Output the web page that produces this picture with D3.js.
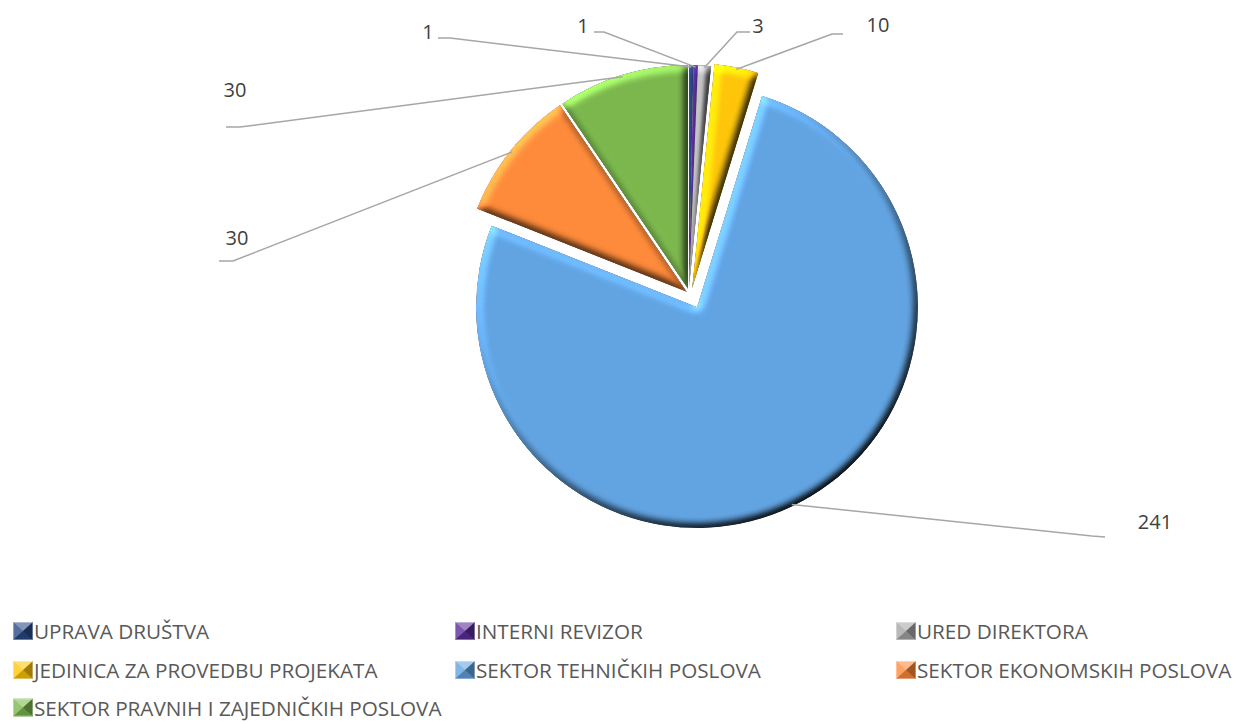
<!DOCTYPE html>
<html><head><meta charset="utf-8">
<script src="https://cdn.jsdelivr.net/npm/d3@7"></script>
<style>html,body{margin:0;padding:0;background:#fff}svg{display:block}</style>
</head><body><svg id="c" width="1236" height="722"></svg>
<script>
// data
const categories = ["UPRAVA DRUŠTVA","INTERNI REVIZOR","URED DIREKTORA","JEDINICA ZA PROVEDBU PROJEKATA","SEKTOR TEHNIČKIH POSLOVA","SEKTOR EKONOMSKIH POSLOVA","SEKTOR PRAVNIH I ZAJEDNIČKIH POSLOVA"];
const values = [1,1,3,10,241,30,30];

// style + layout
const colors = ["#2A4A86","#5A2D9A","#A8A8A8","#FFC60A","#62A4E2","#FF8B3B","#7CB84E"];
const sliceShift = [[0,0],[0,0],[0,0],[3,0],[8,18],[-2,3],[-1,0]];
const sliceRadius = [224,224,224,226,221,226,224];
const base = {x:689,y:289};
const labelLayout = [
  {lx:428,ly:31,elbow:[[438,38],[450,38]]},
  {lx:583,ly:25,elbow:[[594,32],[604,32]]},
  {lx:758,ly:25,elbow:[[750,32],[737,32]]},
  {lx:878,ly:24,elbow:[[843,34],[832,34]]},
  {lx:1155,ly:521,elbow:[[1105,537],[1092,536]]},
  {lx:237,ly:237,elbow:[[219,261],[233,261]]},
  {lx:235,ly:89,elbow:[[226,127],[240,127]]}
];
const legendX = [13,455,896], legendY = [631,670,707.5];

const svg = d3.select("#c");
const defs = svg.append("defs");
const f = defs.append("filter").attr("id","bevel").attr("filterUnits","userSpaceOnUse")
  .attr("x",0).attr("y",0).attr("width",1236).attr("height",722)
  .attr("color-interpolation-filters","sRGB");
f.append("feGaussianBlur").attr("in","SourceAlpha").attr("stdDeviation",4).attr("result","b");
const lit = f.append("feDiffuseLighting").attr("in","b").attr("surfaceScale",4.5)
  .attr("diffuseConstant",0.707).attr("lighting-color","#fff").attr("result","l");
lit.append("feDistantLight").attr("azimuth",235).attr("elevation",45);
f.append("feComposite").attr("in","SourceGraphic").attr("in2","l").attr("operator","arithmetic")
  .attr("k1",2).attr("k2",0).attr("k3",0).attr("k4",0).attr("result","m");
f.append("feComposite").attr("in","m").attr("in2","SourceAlpha").attr("operator","in");

const arcs = d3.pie().sort(null).value(d=>d)(values);
const arc = d3.arc().innerRadius(0);

// slices: the filter sits on a wrapper so each slice is bevelled on its own in page coordinates
svg.append("g").selectAll("g").data(arcs).join("g")
  .attr("filter","url(#bevel)")
  .append("path")
  .attr("transform",(d,i)=>`translate(${base.x+sliceShift[i][0]},${base.y+sliceShift[i][1]})`)
  .attr("d",(d,i)=>arc.outerRadius(sliceRadius[i])(d))
  .attr("fill",(d,i)=>colors[i]);

// leader lines, anchored on the arc midpoints
const line = d3.line();
svg.append("g").selectAll("path").data(arcs).join("path")
  .attr("fill","none").attr("stroke","#A6A6A6").attr("stroke-width",1.5)
  .attr("d",(d,i)=>{
    const a=(d.startAngle+d.endAngle)/2, r=sliceRadius[i]-2;
    const p=[base.x+sliceShift[i][0]+r*Math.sin(a), base.y+sliceShift[i][1]-r*Math.cos(a)];
    return line([...labelLayout[i].elbow,p]);
  });

// value labels
svg.append("g").selectAll("text").data(values).join("text")
  .attr("x",(d,i)=>labelLayout[i].lx).attr("y",(d,i)=>labelLayout[i].ly)
  .attr("text-anchor","middle").attr("dominant-baseline","central")
  .attr("font-family","'Open Sans'").attr("font-size",20).attr("fill","#404040")
  .text(d=>d);

// legend
const lg = svg.append("g").selectAll("g").data(categories).join("g")
  .attr("transform",(d,i)=>`translate(${legendX[i%3]},${legendY[Math.floor(i/3)]})`);
lg.append("rect").attr("x",0).attr("y",-9).attr("width",20).attr("height",18).attr("fill",(d,i)=>colors[i]);
const tris = [["M0,-9L20,-9L10,0Z","#fff",0.42],["M0,-9L0,9L10,0Z","#fff",0.2],["M20,-9L20,9L10,0Z","#000",0.38],["M0,9L20,9L10,0Z","#000",0.2]];
tris.forEach(t=>lg.append("path").attr("d",t[0]).attr("fill",t[1]).attr("fill-opacity",t[2]));
lg.append("rect").attr("x",0.5).attr("y",-8.5).attr("width",19).attr("height",17).attr("fill","none").attr("stroke","#fff").attr("stroke-opacity",0.35);
lg.append("text").attr("x",21).attr("y",0).attr("dominant-baseline","central")
  .attr("font-family","'Open Sans'").attr("font-size",20.7).attr("fill","#595959").text(d=>d);
</script></body></html>
